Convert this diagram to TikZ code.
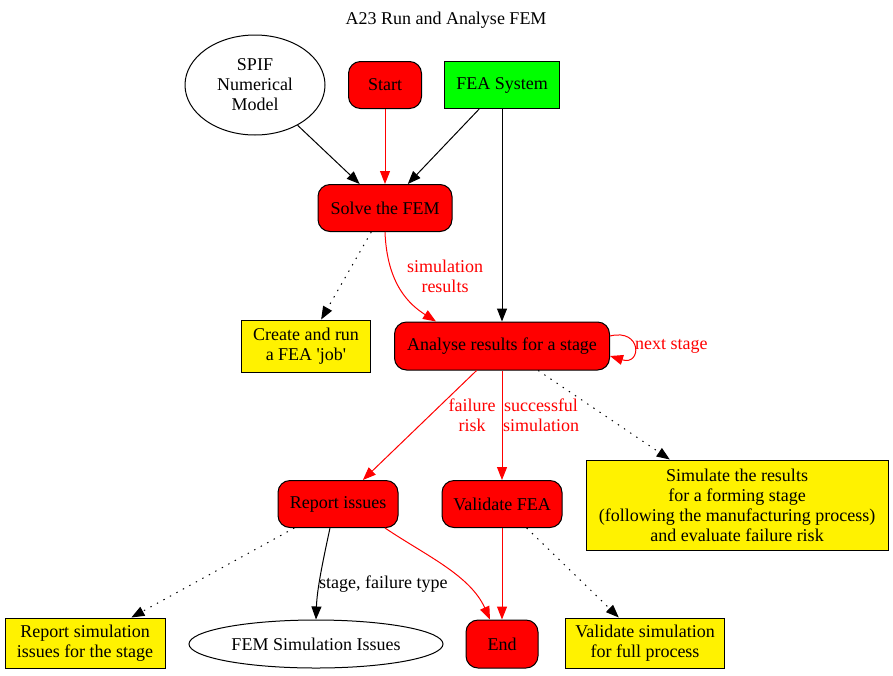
\documentclass[tikz,border=0pt]{standalone}
\usepackage{fontspec}
\setmainfont{Liberation Serif}
\usetikzlibrary{arrows.meta,shapes.geometric}

\tikzset{
  every node/.style={font=\rmfamily\fontsize{18}{20}\selectfont},
  stage/.style={rectangle,rounded corners=12pt,draw,line width=1pt,fill=red,minimum height=47pt,inner sep=0pt},
  note/.style={rectangle,draw,line width=1pt,fill=yellow,align=center,inner sep=0pt},
  store/.style={ellipse,draw,line width=1pt,align=center,inner sep=0pt},
  flow/.style={-{Triangle[length=13pt,width=10pt]},line width=1pt},
  redflow/.style={flow,red},
  hint/.style={flow,dash pattern=on 1.4pt off 6pt},
  tag/.style={align=center,inner sep=0pt}
}

\begin{document}
\begin{tikzpicture}[x=1pt,y=-1pt]
\useasboundingbox (0,0) rectangle (893,675);
% nodes
\node (title) at (446,20) {A23 Run and Analyse FEM};
\node[store,minimum width=140pt,minimum height=100pt] (spif) at (255,85) {SPIF\\Numerical\\Model};
\node[stage,minimum width=73pt] (start) at (385,85) {Start};
\node[rectangle,draw,line width=1pt,fill=green,minimum width=115pt,minimum height=47pt] (fea) at (502,85) {FEA System};
\node[stage,minimum width=134pt] (solve) at (385,208) {Solve the FEM};
\node[note,minimum width=129pt,minimum height=52pt] (job) at (306,346) {Create and run\\a FEA \textquotesingle job\textquotesingle};
\node[stage,minimum width=215pt,minimum height=48pt] (analyse) at (502,346) {Analyse results for a stage};
\node[stage,minimum width=120pt] (report) at (338,504) {Report issues};
\node[stage,minimum width=120pt] (validate) at (502,504) {Validate FEA};
\node[note,minimum width=302pt,minimum height=90pt] (simulate) at (737,505) {Simulate the results\\for a forming stage\\(following the manufacturing process)\\and evaluate failure risk};
\node[note,minimum width=160pt,minimum height=50pt] (reportsim) at (85,643) {Report simulation\\issues for the stage};
\node[store,minimum width=254pt,minimum height=48pt] (issues) at (316,644) {FEM Simulation Issues};
\node[stage,minimum width=72pt,minimum height=48pt] (end) at (502,644) {End};
\node[note,minimum width=159pt,minimum height=50pt] (fullsim) at (645,643) {Validate simulation\\for full process};

% edges
\draw[flow] (spif) -- (solve);
\draw[redflow] (start) -- (solve);
\draw[flow] (fea) -- (solve);
\draw[flow] (fea) -- (analyse);
\draw[hint] (solve) -- (job);
\draw[redflow] (solve.south) .. controls (387,285) and (410,305) .. ([xshift=-66pt]analyse.north);
\node[tag,red] (simlabel) at (445,276) {simulation\\results};
\draw[redflow] ([yshift=10pt]analyse.east) .. controls (642,328) and (642,366) .. ([yshift=-10pt]analyse.east);
\node[tag,red,anchor=west] (nextlabel) at (635,346) {next stage};
\draw[redflow] (analyse) -- (report);
\node[tag,red] (risklabel) at (472,415) {failure\\risk};
\draw[redflow] (analyse) -- (validate);
\node[tag,red] (oklabel) at (541,415) {successful\\simulation};
\draw[hint] (analyse) -- (simulate);
\draw[hint] (report) -- (reportsim);
\draw[flow] ([xshift=-8pt]report.south) .. controls (322,565) and (317,590) .. (issues.north);
\node[tag,anchor=west] (typelabel) at (319,584) {stage, failure type};
\draw[redflow] ([xshift=47pt]report.south) .. controls (425,555) and (470,575) .. ([xshift=-12pt]end.north);
\draw[redflow] (validate) -- (end);
\draw[hint] (validate) -- (fullsim);
\end{tikzpicture}
\end{document}
